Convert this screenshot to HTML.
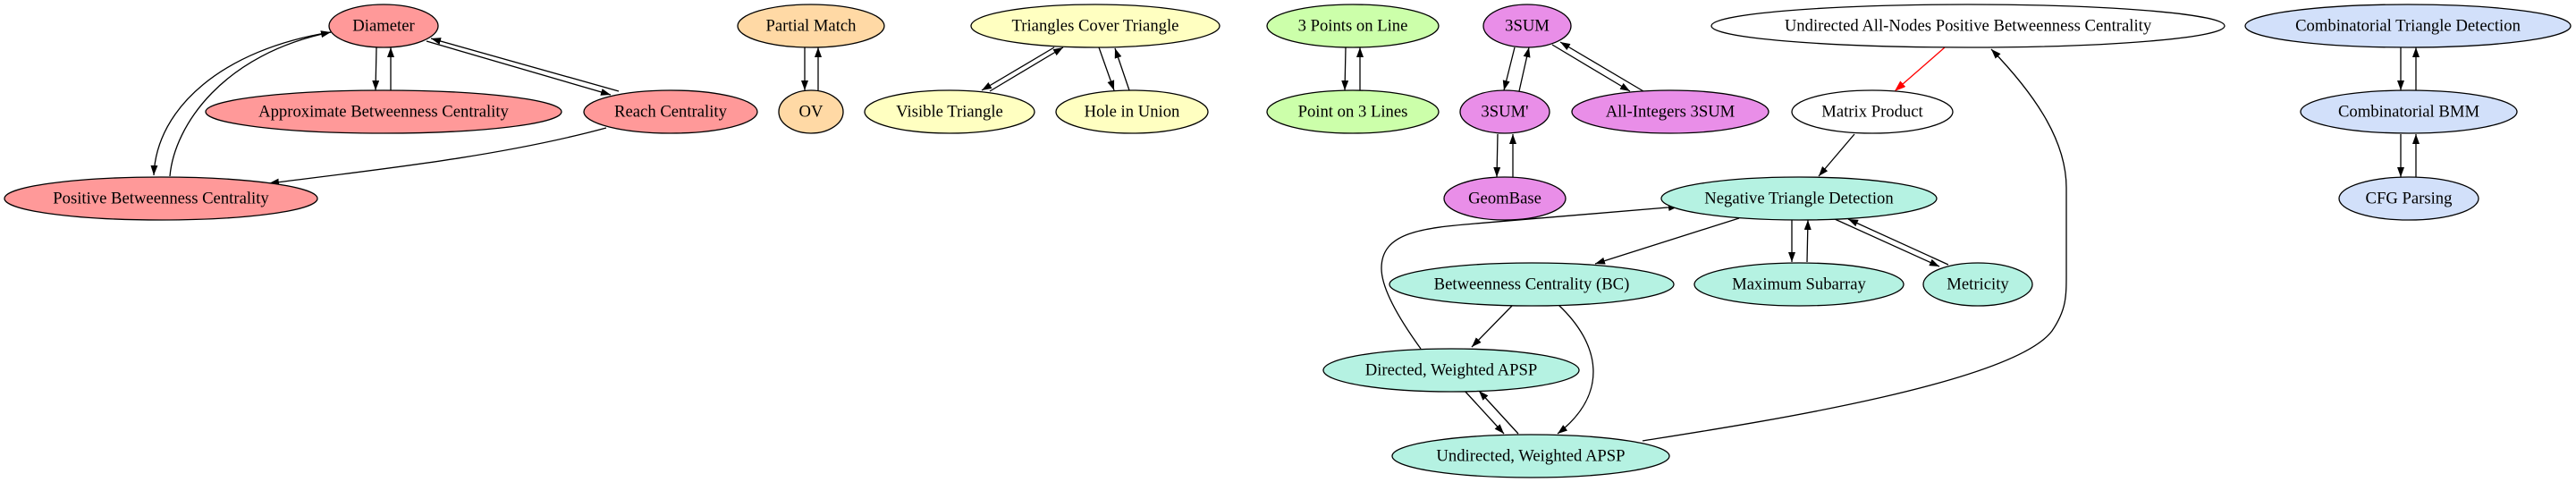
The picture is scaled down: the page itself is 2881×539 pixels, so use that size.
<!DOCTYPE html>
<html><head><meta charset="utf-8"><style>
html,body{margin:0;padding:0;background:#fff;}
svg{display:block;}
svg text{font-family:"Liberation Serif","DejaVu Serif",serif;font-size:18.67px;text-anchor:middle;dominant-baseline:central;fill:#000;}
ellipse{stroke:#000;stroke-width:1.3;}
path.e{fill:none;stroke:#000;stroke-width:1.3;}
</style></head><body>
<svg width="2881" height="539" viewBox="0 0 2881 539" xmlns="http://www.w3.org/2000/svg" font-family="Liberation Serif, DejaVu Serif, serif" font-size="18.67">
<defs>
<marker id="a" markerUnits="userSpaceOnUse" markerWidth="12" markerHeight="10" refX="11" refY="4" orient="auto"><path d="M0,0 L11,4 L0,8 z" fill="#000"/></marker>
<marker id="r" markerUnits="userSpaceOnUse" markerWidth="12" markerHeight="10" refX="11" refY="4" orient="auto"><path d="M0,0 L11,4 L0,8 z" fill="#f00" stroke="#f00"/></marker>
</defs>
<g marker-end="url(#a)">
<path class="e" d="M421,53 L420,101"/>
<path class="e" d="M437,101 L437,53"/>
<path class="e" d="M477,46 L683,106"/>
<path class="e" d="M692,102 L482,43"/>
<path class="e" d="M370,36 C250,55 175,120 172,196"/>
<path class="e" d="M190,197 C195,140 250,60 370,36"/>
<path class="e" d="M678,143 C560,175 420,190 301,205"/>
<path class="e" d="M900,53 L900,101"/>
<path class="e" d="M915,101 L915,53"/>
<path class="e" d="M1179,53 L1098,101"/>
<path class="e" d="M1107,102 L1189,53"/>
<path class="e" d="M1229,53 L1246,101"/>
<path class="e" d="M1263,101 L1247,54"/>
<path class="e" d="M1505,53 L1504,101"/>
<path class="e" d="M1521,101 L1521,53"/>
<path class="e" d="M1694,53 L1682,101"/>
<path class="e" d="M1699,102 L1710,53"/>
<path class="e" d="M1736,50 L1823,102"/>
<path class="e" d="M1838,102 L1745,47"/>
<path class="e" d="M1675,150 L1674,198"/>
<path class="e" d="M1692,198 L1692,150"/>
<path class="e" d="M2074,150 L2034,197"/>
<path class="e" d="M1945,244 L1784,295"/>
<path class="e" d="M2004,246 L2004,293"/>
<path class="e" d="M2021,293 L2022,246"/>
<path class="e" d="M2052,245 L2169,298"/>
<path class="e" d="M2179,296 L2067,245"/>
<path class="e" d="M1691,342 L1646,388"/>
<path class="e" d="M1743,341 C1790,385 1800,440 1742,485"/>
<path class="e" d="M1638,437 L1682,485"/>
<path class="e" d="M1698,485 L1654,437"/>
<path class="e" d="M1589,390 C1560,350 1545,320 1545,300 C1545,260 1590,255 1650,250 C1740,243 1820,236 1877,231"/>
<path class="e" d="M1837,493 C1950,475 2250,430 2295,370 C2312,345 2311,330 2311,300 L2311,210 C2311,160 2280,110 2227,55"/>
<path class="e" d="M2685,53 L2685,101"/>
<path class="e" d="M2702,101 L2702,53"/>
<path class="e" d="M2685,150 L2685,198"/>
<path class="e" d="M2702,198 L2702,150"/>
</g>
<path d="M2175,53 L2120,101" fill="none" stroke="#f00" stroke-width="1.3" marker-end="url(#r)"/>

<g fill="#ff9999">
<ellipse cx="429" cy="29" rx="61" ry="24"/><text x="429" y="29">Diameter</text>
<ellipse cx="429" cy="125" rx="199" ry="24"/><text x="429" y="125">Approximate Betweenness Centrality</text>
<ellipse cx="750" cy="125" rx="97" ry="24"/><text x="750" y="125">Reach Centrality</text>
<ellipse cx="180" cy="222" rx="175" ry="24"/><text x="180" y="222">Positive Betweenness Centrality</text>
</g>
<g fill="#ffd9a5">
<ellipse cx="907" cy="29" rx="82" ry="24"/><text x="907" y="29">Partial Match</text>
<ellipse cx="907" cy="125" rx="36" ry="24"/><text x="907" y="125">OV</text>
</g>
<g fill="#ffffc1">
<ellipse cx="1225" cy="29" rx="139" ry="24"/><text x="1225" y="29">Triangles Cover Triangle</text>
<ellipse cx="1062" cy="125" rx="95" ry="24"/><text x="1062" y="125">Visible Triangle</text>
<ellipse cx="1266" cy="125" rx="85" ry="24"/><text x="1266" y="125">Hole in Union</text>
</g>
<g fill="#ccffaa">
<ellipse cx="1513" cy="29" rx="96" ry="24"/><text x="1513" y="29">3 Points on Line</text>
<ellipse cx="1513" cy="125" rx="96" ry="24"/><text x="1513" y="125">Point on 3 Lines</text>
</g>
<g fill="#e98ee8">
<ellipse cx="1708" cy="29" rx="49" ry="24"/><text x="1708" y="29">3SUM</text>
<ellipse cx="1683" cy="125" rx="50" ry="24"/><text x="1683" y="125">3SUM'</text>
<ellipse cx="1868" cy="125" rx="110" ry="24"/><text x="1868" y="125">All-Integers 3SUM</text>
<ellipse cx="1683" cy="222" rx="68" ry="24"/><text x="1683" y="222">GeomBase</text>
</g>
<g fill="#ffffff">
<ellipse cx="2201" cy="29" rx="287" ry="24"/><text x="2201" y="29">Undirected All-Nodes Positive Betweenness Centrality</text>
<ellipse cx="2094" cy="125" rx="90" ry="24"/><text x="2094" y="125">Matrix Product</text>
</g>
<g fill="#b5f2e2">
<ellipse cx="2012" cy="222" rx="154" ry="24"/><text x="2012" y="222">Negative Triangle Detection</text>
<ellipse cx="1713" cy="318" rx="159" ry="24"/><text x="1713" y="318">Betweenness Centrality (BC)</text>
<ellipse cx="2012" cy="318" rx="117" ry="24"/><text x="2012" y="318">Maximum Subarray</text>
<ellipse cx="2212" cy="318" rx="61" ry="24"/><text x="2212" y="318">Metricity</text>
<ellipse cx="1623" cy="414" rx="143" ry="24"/><text x="1623" y="414">Directed, Weighted APSP</text>
<ellipse cx="1712" cy="510" rx="155" ry="24"/><text x="1712" y="510">Undirected, Weighted APSP</text>
</g>
<g fill="#d2e0fa">
<ellipse cx="2693" cy="29" rx="182" ry="24"/><text x="2693" y="29">Combinatorial Triangle Detection</text>
<ellipse cx="2694" cy="125" rx="121" ry="24"/><text x="2694" y="125">Combinatorial BMM</text>
<ellipse cx="2694" cy="222" rx="78" ry="24"/><text x="2694" y="222">CFG Parsing</text>
</g>
</svg>
</body></html>
